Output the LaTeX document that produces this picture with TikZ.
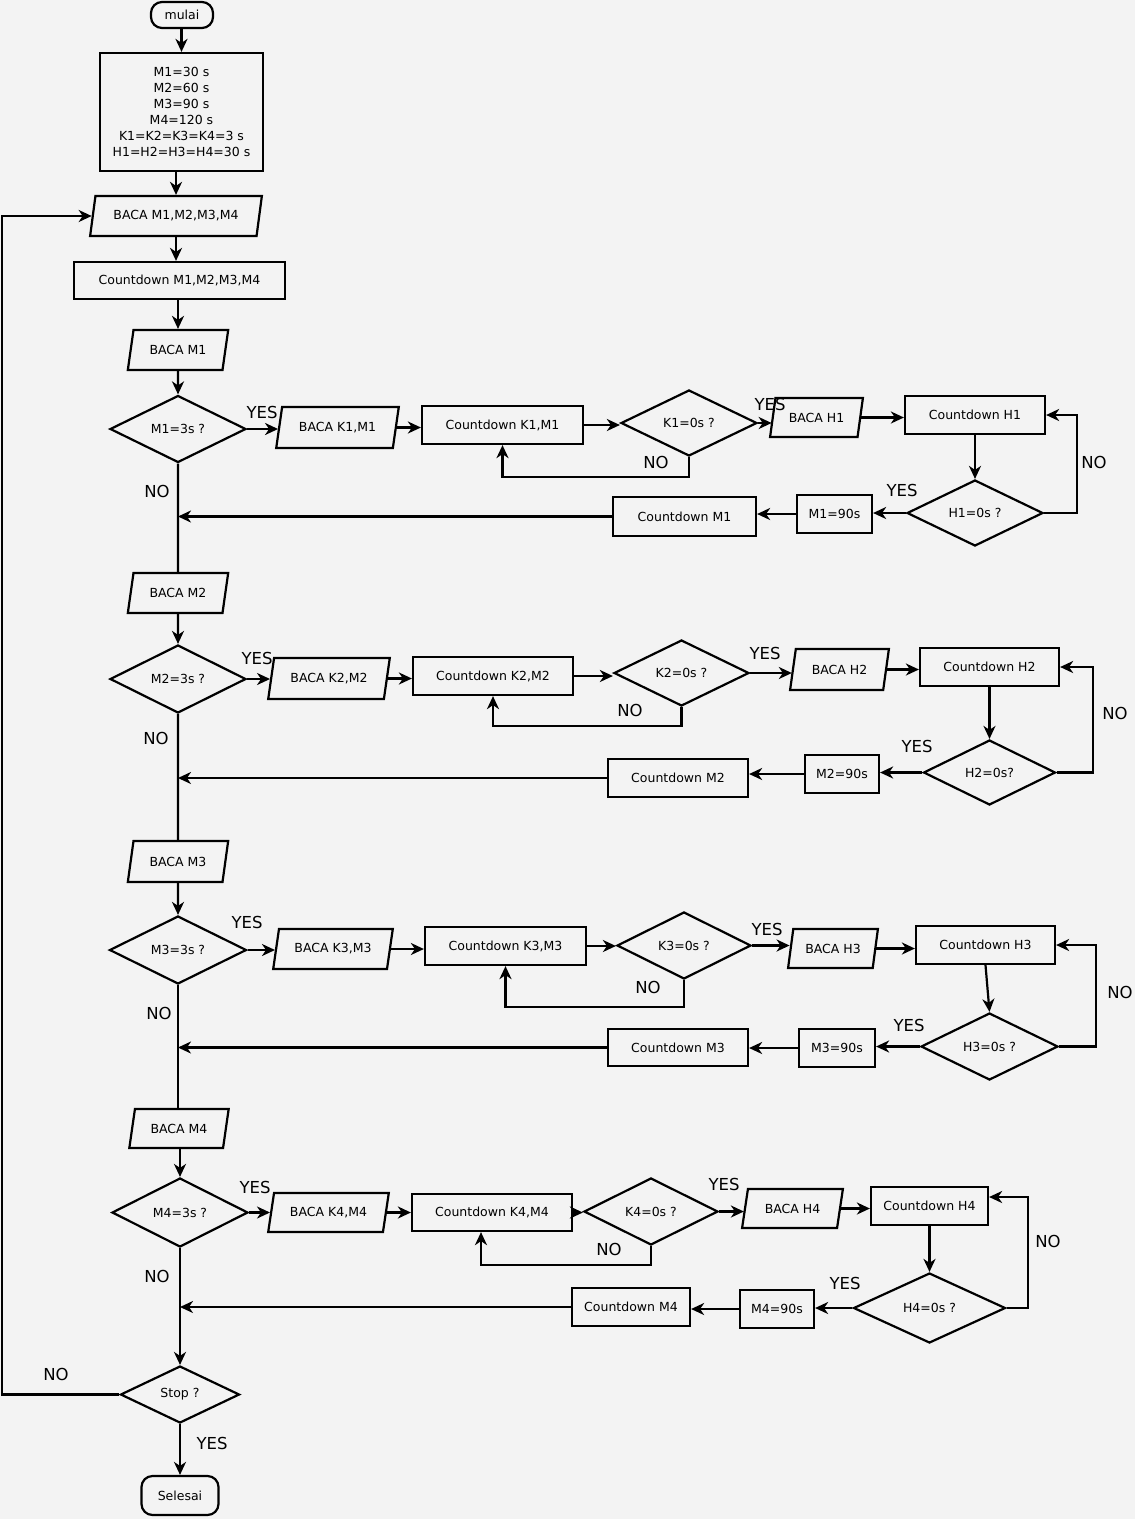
\documentclass[tikz,border=0pt]{standalone}
\usepackage{fontspec}
\setmainfont{DejaVu Sans}
\usetikzlibrary{shapes.geometric,arrows.meta,calc}
\definecolor{bg}{RGB}{243,243,243}
\begin{document}
\begin{tikzpicture}[x=1pt,y=-1pt,
  every node/.style={font=\fontsize{12.5}{16}\selectfont},
  shp/.style={draw,line width=2.2pt,inner sep=0pt,fill=bg},
  box/.style={shp,rectangle},
  term/.style={shp,rectangle,rounded corners=11pt},
  io/.style={shp,trapezium,trapezium left angle=69,trapezium right angle=111,trapezium stretches=true},
  dec/.style={shp,diamond,aspect=2},
  conn/.style={line width=2.2pt,-{Stealth[length=13pt,width=12pt,inset=4pt]}},
  line/.style={line width=2.2pt},
  lbl/.style={font=\fontsize{16.5}{18}\selectfont,inner sep=0pt}
]
\fill[bg] (0,0) rectangle (1135,1519);
\useasboundingbox (0,0) rectangle (1135,1519);

% ---------- top ----------
\node[term,minimum width=62,minimum height=26] (mulai) at (182,15) {mulai};
\node[box,minimum width=163,minimum height=118,align=center] (init) at (181.5,112)
  {M1=30 s\\M2=60 s\\M3=90 s\\M4=120 s\\K1=K2=K3=K4=3 s\\H1=H2=H3=H4=30 s};
\node[io,minimum width=172,minimum height=40] (bacaAll) at (176,216) {BACA M1,M2,M3,M4};
\node[box,minimum width=211,minimum height=37] (cdAll) at (179.5,280.5) {Countdown M1,M2,M3,M4};

% ---------- row 1 ----------
\node[io,minimum width=101,minimum height=40] (bm1) at (178,350) {BACA M1};
\node[dec,minimum width=136,minimum height=67] (d1) at (178,429) {M1=3s ?};
\node[io,minimum width=123,minimum height=41] (bk1) at (337.5,427.5) {BACA K1,M1};
\node[box,minimum width=161,minimum height=38] (ck1) at (502.5,425) {Countdown K1,M1};
\node[dec,minimum width=136,minimum height=66] (k1) at (689,423) {K1=0s ?};
\node[io,minimum width=93,minimum height=39] (bh1) at (816.5,417.5) {BACA H1};
\node[box,minimum width=140,minimum height=38] (ch1) at (975,415) {Countdown H1};
\node[dec,minimum width=136,minimum height=66] (h1) at (975,513) {H1=0s ?};
\node[box,minimum width=75,minimum height=38] (m190) at (834.5,514) {M1=90s};
\node[box,minimum width=143,minimum height=39] (cm1) at (684.5,516.5) {Countdown M1};

% ---------- row 2 ----------
\node[io,minimum width=101,minimum height=40] (bm2) at (178,593) {BACA M2};
\node[dec,minimum width=136,minimum height=68] (d2) at (178,679) {M2=3s ?};
\node[io,minimum width=122,minimum height=41] (bk2) at (329,678.5) {BACA K2,M2};
\node[box,minimum width=160,minimum height=38] (ck2) at (493,676) {Countdown K2,M2};
\node[dec,minimum width=135,minimum height=66] (k2) at (681.5,673) {K2=0s ?};
\node[io,minimum width=99,minimum height=41] (bh2) at (839.5,669.5) {BACA H2};
\node[box,minimum width=139,minimum height=38] (ch2) at (989.5,667) {Countdown H2};
\node[dec,minimum width=132,minimum height=65] (h2) at (989.5,772.5) {H2=0s?};
\node[box,minimum width=74,minimum height=38] (m290) at (842,774) {M2=90s};
\node[box,minimum width=140,minimum height=38] (cm2) at (678,778) {Countdown M2};

% ---------- row 3 ----------
\node[io,minimum width=101,minimum height=41] (bm3) at (178,861.5) {BACA M3};
\node[dec,minimum width=137,minimum height=68] (d3) at (178,950) {M3=3s ?};
\node[io,minimum width=120,minimum height=40] (bk3) at (333,949) {BACA K3,M3};
\node[box,minimum width=161,minimum height=38] (ck3) at (505.5,946) {Countdown K3,M3};
\node[dec,minimum width=134,minimum height=67] (k3) at (684,945.5) {K3=0s ?};
\node[io,minimum width=90,minimum height=39] (bh3) at (833,948.5) {BACA H3};
\node[box,minimum width=139,minimum height=38] (ch3) at (985.5,945) {Countdown H3};
\node[dec,minimum width=137,minimum height=67] (h3) at (989.5,1046.5) {H3=0s ?};
\node[box,minimum width=76,minimum height=38] (m390) at (837,1048) {M3=90s};
\node[box,minimum width=140,minimum height=37] (cm3) at (678,1047.5) {Countdown M3};

% ---------- row 4 ----------
\node[io,minimum width=100,minimum height=39] (bm4) at (179,1128.5) {BACA M4};
\node[dec,minimum width=136,minimum height=69] (d4) at (180,1212.5) {M4=3s ?};
\node[io,minimum width=121,minimum height=39] (bk4) at (328.5,1212.5) {BACA K4,M4};
\node[box,minimum width=160,minimum height=37] (ck4) at (492,1212.5) {Countdown K4,M4};
\node[dec,minimum width=134,minimum height=67] (k4) at (651,1211.5) {K4=0s ?};
\node[io,minimum width=101,minimum height=39] (bh4) at (792.5,1208.5) {BACA H4};
\node[box,minimum width=117,minimum height=38] (ch4) at (929.5,1206) {Countdown H4};
\node[dec,minimum width=152,minimum height=70] (h4) at (929.5,1308) {H4=0s ?};
\node[box,minimum width=74,minimum height=38] (m490) at (777,1309) {M4=90s};
\node[box,minimum width=118,minimum height=38] (cm4) at (631,1307) {Countdown M4};

% ---------- bottom ----------
\node[dec,minimum width=119,minimum height=57] (stop) at (180,1394.5) {Stop ?};
\node[term,minimum width=77,minimum height=39] (selesai) at (180,1495.5) {Selesai};

% ---------- connectors: main chain ----------
\draw[conn] (mulai.south -| init.north) -- (init.north);
\draw[conn] (init.south -| bacaAll.north) -- (bacaAll.north);
\draw[conn] (bacaAll.south) -- (bacaAll.south |- cdAll.north);
\draw[conn] (cdAll.south -| bm1.north) -- (bm1.north);
\draw[conn] (bm1) -- (d1);
\draw[line] (d1.south) -- (bm2.north);
\draw[conn] (bm2) -- (d2);
\draw[line] (d2.south) -- (bm3.north);
\draw[conn] (bm3) -- (d3);
\draw[line] (d3.south) -- (d3.south |- bm4.north);
\draw[conn] (bm4.south -| d4.north) -- (d4.north);
\draw[conn] (d4.south) -- (stop.north);
\draw[conn] (stop.south) -- (selesai.north);
\draw[conn] (stop.west) -- (2,1394.5) |- (bacaAll.west);

% ---------- row 1 connectors ----------
\draw[conn] (d1.east) -- (d1.east -| bk1.west);
\draw[conn] (bk1.east) -- (bk1.east -| ck1.west);
\draw[conn] (ck1.east) -- (ck1.east -| k1.west);
\draw[conn] (k1.south) -- ++(0,20) -| (ck1.south);
\draw[conn] (k1.east) -- (k1.east -| bh1.west);
\draw[conn] (bh1.east) -- (bh1.east -| ch1.west);
\draw[conn] (ch1.south) -- (h1.north);
\draw[conn] (h1.east) -- ++(33,0) |- (ch1.east);
\draw[conn] (h1.west) -- (h1.west -| m190.east);
\draw[conn] (m190.west) -- (m190.west -| cm1.east);
\draw[conn] (cm1.west) -- (d1.south |- cm1.west);

% ---------- row 2 connectors ----------
\draw[conn] (d2.east) -- (d2.east -| bk2.west);
\draw[conn] (bk2.east) -- (bk2.east -| ck2.west);
\draw[conn] (ck2.east) -- (ck2.east -| k2.west);
\draw[conn] (k2.south) -- ++(0,19) -| (ck2.south);
\draw[conn] (k2.east) -- (k2.east -| bh2.west);
\draw[conn] (bh2.east) -- (bh2.east -| ch2.west);
\draw[conn] (ch2.south) -- (h2.north);
\draw[conn] (h2.east) -- ++(36,0) |- (ch2.east);
\draw[conn] (h2.west) -- (h2.west -| m290.east);
\draw[conn] (m290.west) -- (m290.west -| cm2.east);
\draw[conn] (cm2.west) -- (d2.south |- cm2.west);

% ---------- row 3 connectors ----------
\draw[conn] (d3.east) -- (d3.east -| bk3.west);
\draw[conn] (bk3.east) -- (bk3.east -| ck3.west);
\draw[conn] (ck3.east) -- (ck3.east -| k3.west);
\draw[conn] (k3.south) -- ++(0,27) -| (ck3.south);
\draw[conn] (k3.east) -- (k3.east -| bh3.west);
\draw[conn] (bh3.east) -- (bh3.east -| ch3.west);
\draw[conn] (ch3.south) -- (h3.north);
\draw[conn] (h3.east) -- ++(37,0) |- (ch3.east);
\draw[conn] (h3.west) -- (h3.west -| m390.east);
\draw[conn] (m390.west) -- (m390.west -| cm3.east);
\draw[conn] (cm3.west) -- (d3.south |- cm3.west);

% ---------- row 4 connectors ----------
\draw[conn] (d4.east) -- (d4.east -| bk4.west);
\draw[conn] (bk4.east) -- (bk4.east -| ck4.west);
\draw[conn] (ck4.east) -- (ck4.east -| k4.west);
\draw[conn] (k4.south) -- ++(0,19) -| ([xshift=-11pt]ck4.south);
\draw[conn] (k4.east) -- (k4.east -| bh4.west);
\draw[conn] (bh4.east) -- (bh4.east -| ch4.west);
\draw[conn] (ch4.south) -- (h4.north);
\draw[conn] (h4.east) -- ++(21,0) |- ([yshift=9pt]ch4.east);
\draw[conn] (h4.west) -- (h4.west -| m490.east);
\draw[conn] (m490.west) -- (m490.west -| cm4.east);
\draw[conn] (cm4.west) -- (d4.south |- cm4.west);

% ---------- labels ----------
\node[lbl] (y1) at (262,412) {YES};
\node[lbl] (y1b) at (770,404) {YES};
\node[lbl] (n1k) at (656,462) {NO};
\node[lbl] (n1m) at (157,491) {NO};
\node[lbl] (y1h) at (902,490) {YES};
\node[lbl] (n1h) at (1094,462) {NO};

\node[lbl] (y2) at (257,658) {YES};
\node[lbl] (y2b) at (765,653) {YES};
\node[lbl] (n2k) at (630,710) {NO};
\node[lbl] (n2m) at (156,738) {NO};
\node[lbl] (y2h) at (917,746) {YES};
\node[lbl] (n2h) at (1115,713) {NO};

\node[lbl] (y3) at (247,922) {YES};
\node[lbl] (y3b) at (767,929) {YES};
\node[lbl] (n3k) at (648,987) {NO};
\node[lbl] (n3m) at (159,1013) {NO};
\node[lbl] (y3h) at (909,1025) {YES};
\node[lbl] (n3h) at (1120,992) {NO};

\node[lbl] (y4) at (255,1187) {YES};
\node[lbl] (y4b) at (724,1184) {YES};
\node[lbl] (n4k) at (609,1249) {NO};
\node[lbl] (n4m) at (157,1276) {NO};
\node[lbl] (y4h) at (845,1283) {YES};
\node[lbl] (n4h) at (1048,1241) {NO};

\node[lbl] (ns) at (56,1374) {NO};
\node[lbl] (ys) at (212,1443) {YES};
\end{tikzpicture}
\end{document}
